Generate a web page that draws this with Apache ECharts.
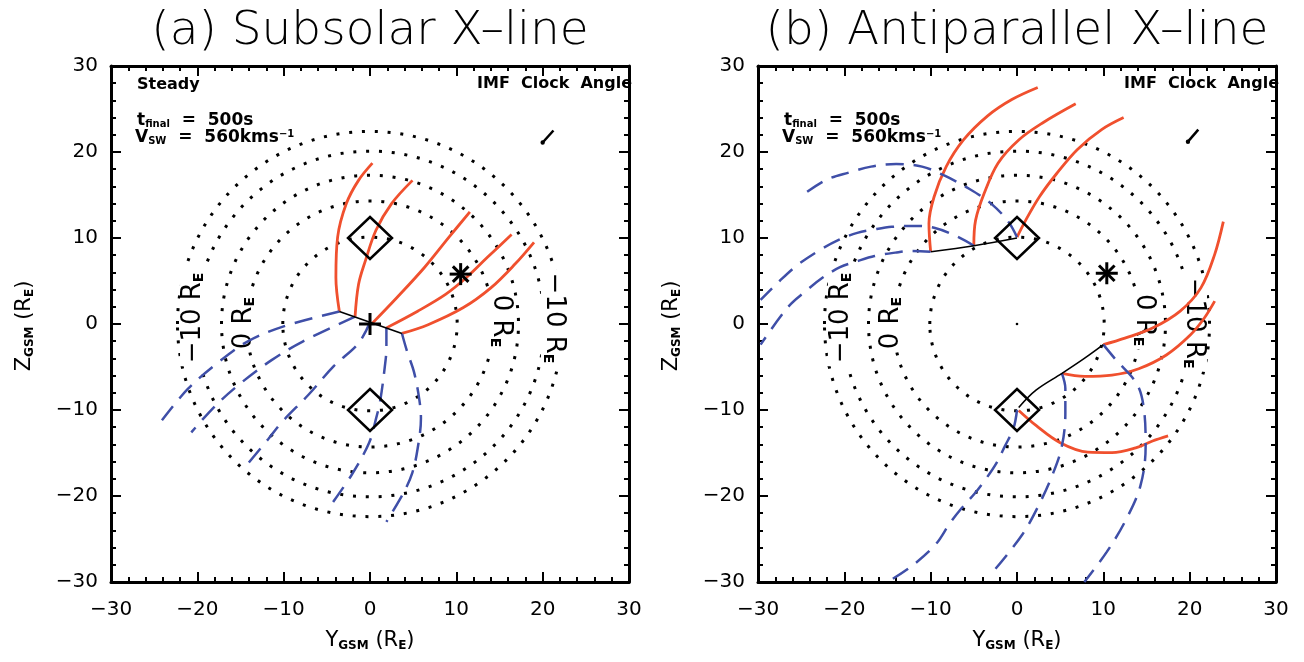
<!DOCTYPE html>
<html><head><meta charset="utf-8">
<script src="https://cdn.jsdelivr.net/npm/echarts@6/dist/echarts.min.js"></script>
<style>html,body{margin:0;padding:0;background:#fff}#c{width:1304px;height:662px}</style>
</head><body><div id="c"></div>
<script>
// ---------- data ----------
const axisMin = -30, axisMax = 30, axisStep = 10;
// dotted contour rings: [half-width in Y, half-height in Z]
const rings = [[10.1, 10.1], [14.3, 14.3], [17.2, 17.3], [20.2, 20.1], [22.3, 22.4]];
const ringLabelTexts = ['−10', '0', '0', '−10'];
const ringLabelPosA = [[-20.5, 0.7], [-14.6, 0.1], [15.1, 0.35], [21.3, 0.7]];
const ringLabelPosB = [[-20.4, 0.7], [-14.6, 0.1], [14.7, 0.45], [20.5, 0.1]];

// panel (a) Subsolar X-line
const xlineA = [[-3.55, 1.45], [3.7, -1.1]];
const redA1 = [[-3.55, 1.45], [-3.95, 5.4], [-3.75, 10.1], [-2.74, 14], [-1.33, 16.7], [0.28, 18.7]];
const redA2 = [[-1.73, 0.85], [-1.33, 4.6], [-0.52, 7.4], [0.69, 10.9], [2.5, 14], [4.92, 16.7]];
const redA3 = [[0.28, 0.1], [3.1, 3.05], [6.33, 6.6], [9.15, 10.1], [11.57, 13.03]];
const redA4 = [[1.9, -0.45], [5.52, 1.49], [8.75, 3.44], [11.17, 5.4], [13.6, 7.75], [16.4, 10.4]];
const redA5 = [[3.7, -1.1], [6.73, -0.08], [10.77, 1.88], [14, 4.2], [16.8, 6.97], [19.0, 9.5]];
const blueA1 = [[-3.55, 1.45], [-10, -0.27], [-14.2, -2.05], [-17.5, -4.4], [-21.1, -7.55], [-24.1, -11.2]];
const blueA2 = [[-1.73, 0.85], [-7.8, -2.04], [-11.4, -4.2], [-15, -6.9], [-17.9, -9.5], [-20.7, -12.6]];
const blueA3 = [[0, 0.2], [-1.3, -2.2], [-4.2, -4.9], [-7.1, -8.2], [-10.2, -11.4], [-11.8, -13.4], [-14.2, -16.3]];
const blueA4 = [[1.9, -0.45], [1.9, -2.8], [1.7, -5.1], [1.2, -8.8], [0.7, -11], [-0.1, -13.8], [-2.1, -17.5], [-4.5, -21]];
const blueA5 = [[3.7, -1.1], [4.3, -3.2], [5.1, -5.6], [5.7, -8.7], [5.9, -11], [5.5, -14.6], [4.9, -17.3], [3.9, -19.6], [1.9, -23]];
const diamondsA = [[0, 10], [0, -10]];
const starA = [[10.5, 5.8]];
const plusA = [[0, 0]];
const clockA = [[20.0, 21.1], [21.25, 22.5]];

// panel (b) Antiparallel X-line
const xlineB1 = [[-9.96, 8.4], [-4.98, 9.1], [0, 10]];
const xlineB2 = [[0.2, -9.7], [2.2, -7.7], [5.2, -5.75], [7.8, -4], [10, -2.4]];
const redB1 = [[-10, 8.4], [-10.2, 11.7], [-9.6, 14.8], [-8.2, 18.3], [-6.2, 21.4], [-3.4, 24.2], [-0.6, 26.1], [2.4, 27.5]];
const redB2 = [[-5, 9.1], [-4.8, 12.05], [-3.8, 15.2], [-2.2, 18.7], [0.2, 21.4], [3, 23.4], [6.8, 25.6]];
const redB3 = [[0, 10.1], [1, 12.05], [2.6, 14.8], [4.6, 17.5], [7, 20.3], [9.8, 22.6], [12.35, 24]];
const redB4 = [[10, -2.4], [12.5, -1.64], [15.7, -0.47], [18.9, 1.5], [21.3, 4.2], [22.9, 8.1], [23.9, 11.9]];
const redB5 = [[5.2, -5.75], [7.8, -6.1], [11, -5.95], [14.1, -5.2], [17.3, -3.6], [20.1, -1.25], [21.7, 0.7], [22.9, 2.66]];
const redB6 = [[0.2, -10.06], [2.2, -11.8], [5, -13.8], [8.2, -14.9], [11, -14.95], [13.75, -14.4], [15.7, -13.6], [17.5, -13]];
const blueB1 = [[0, 10.1], [-1, 11.9], [-3, 14], [-5.5, 15.7], [-8.5, 17.3], [-11, 18.3], [-14, 18.6], [-16.9, 18.3], [-19.5, 17.6], [-22, 16.8], [-24.4, 15.3]];
const blueB2 = [[-5, 9.1], [-7, 10.2], [-9.6, 11.2], [-12, 11.4], [-14.5, 11.3], [-16.5, 11], [-18.5, 10.6], [-20.6, 9.8], [-23, 8.5], [-25.5, 6.8], [-27.5, 5], [-29.7, 2.8]];
const blueB3 = [[-10, 8.4], [-12.2, 8.5], [-14.1, 8.3], [-16.5, 7.9], [-18.5, 7.3], [-20.5, 6.6], [-22.5, 5.4], [-24.5, 3.8], [-26.5, 2], [-29.7, -2.4]];
const blueB4 = [[0, -10], [-0.4, -12.1], [-1.4, -14.2], [-2.4, -16.2], [-3.6, -18], [-4.8, -19.6], [-6.4, -21.4], [-7.8, -23.2], [-9.4, -25.6], [-12, -28], [-14.5, -29.7]];
const blueB5 = [[5.2, -5.75], [5.6, -7.5], [5.6, -10.4], [5.2, -14.2], [4.2, -17.3], [2.6, -20.9], [0.6, -24.5], [-2.6, -28.6]];
const blueB6 = [[10, -2.4], [11.4, -4.1], [13.9, -7], [14.7, -9.9], [14.9, -14.2], [14.3, -18.8], [12.6, -22.8], [10.4, -26.5], [7.8, -30]];
const diamondsB = [[0, 10], [0, -10]];
const starB = [[10.4, 5.9]];
const dotB = [[0, 0]];
const clockB = [[19.8, 21.2], [21.0, 22.6]];

// ---------- styles ----------
const RED = '#f0502e', BLUE = '#3f4fa8', BLACK = '#000';
const FONT = 'DejaVu Sans';

function minusFmt(v) { return v < 0 ? '−' + (-v) : String(v); }

function xAx(grid, pos, labels) {
  return {
    type: 'value', gridIndex: grid, position: pos, min: axisMin, max: axisMax, interval: axisStep,
    axisLine: { show: true, onZero: false, lineStyle: { color: BLACK, width: 3 } },
    axisTick: { show: true, inside: true, length: 10, lineStyle: { color: BLACK, width: 2 } },
    minorTick: { show: true, splitNumber: 5, length: 5, lineStyle: { color: BLACK, width: 2 } },
    splitLine: { show: false },
    axisLabel: { show: labels, fontSize: 20, color: BLACK, margin: 18, fontFamily: FONT, formatter: minusFmt }
  };
}
function yAx(grid, pos, labels) {
  const a = xAx(grid, pos, labels);
  a.axisLabel.margin = 13;
  return a;
}

function lineS(gi, data, color, dashed, width) {
  return {
    type: 'line', xAxisIndex: gi * 2, yAxisIndex: gi * 2, data: data, showSymbol: false, smooth: 0.35,
    silent: true, animation: false, z: 3,
    lineStyle: { color: color, width: width, type: dashed ? [18, 10] : 'solid', cap: 'butt' }
  };
}

function ringSeries(gi) {
  return {
    type: 'custom', xAxisIndex: gi * 2, yAxisIndex: gi * 2, data: rings, silent: true, animation: false, z: 1,
    renderItem: function (params, api) {
      const c = api.coord([0, 0]);
      const s = api.size([api.value(0), api.value(1)]);
      return { type: 'ellipse', shape: { cx: c[0], cy: c[1], rx: s[0], ry: s[1] },
        style: { fill: 'none', stroke: BLACK, lineWidth: 3, lineDash: [3, 9.8] } };
    }
  };
}

function ringLabelSeries(gi, pos) {
  return {
    type: 'custom', xAxisIndex: gi * 2, yAxisIndex: gi * 2, data: pos, silent: true, animation: false, z: 2,
    renderItem: function (params, api) {
      const x = api.value(0), y = api.value(1);
      const p = api.coord([x, y]);
      return { type: 'text', x: p[0], y: p[1], rotation: x < 0 ? Math.PI / 2 : -Math.PI / 2,
        style: { text: '{n|' + ringLabelTexts[params.dataIndex] + ' R}{s|E}', align: 'center', verticalAlign: 'middle',
          backgroundColor: '#fff', padding: [0, 3],
          rich: { n: { fontSize: 26, fontFamily: FONT, fill: BLACK, verticalAlign: 'bottom' },
                  s: { fontSize: 14, fontFamily: FONT, fill: BLACK, fontWeight: 'bold', verticalAlign: 'bottom' } } } };
    }
  };
}

function markerSeries(gi, data, kind) {
  return {
    type: 'custom', xAxisIndex: gi * 2, yAxisIndex: gi * 2, data: data, silent: true, animation: false, z: 5,
    renderItem: function (params, api) {
      const p = api.coord([api.value(0), api.value(1)]);
      const st = { stroke: BLACK, lineWidth: 2.5, fill: 'none' };
      if (kind === 'diamond') {
        return { type: 'polygon', shape: { points: [[p[0], p[1] - 21], [p[0] + 22, p[1]], [p[0], p[1] + 21], [p[0] - 22, p[1]]] }, style: st };
      }
      if (kind === 'plus') {
        return { type: 'group', children: [
          { type: 'line', shape: { x1: p[0] - 11, y1: p[1], x2: p[0] + 11, y2: p[1] }, style: { stroke: BLACK, lineWidth: 3 } },
          { type: 'line', shape: { x1: p[0], y1: p[1] - 11, x2: p[0], y2: p[1] + 11 }, style: { stroke: BLACK, lineWidth: 3 } }] };
      }
      if (kind === 'star') {
        const r = 11, d = 7.8;
        return { type: 'group', children: [
          { type: 'line', shape: { x1: p[0] - r, y1: p[1], x2: p[0] + r, y2: p[1] }, style: { stroke: BLACK, lineWidth: 3 } },
          { type: 'line', shape: { x1: p[0], y1: p[1] - r, x2: p[0], y2: p[1] + r }, style: { stroke: BLACK, lineWidth: 3 } },
          { type: 'line', shape: { x1: p[0] - d, y1: p[1] - d, x2: p[0] + d, y2: p[1] + d }, style: { stroke: BLACK, lineWidth: 3 } },
          { type: 'line', shape: { x1: p[0] - d, y1: p[1] + d, x2: p[0] + d, y2: p[1] - d }, style: { stroke: BLACK, lineWidth: 3 } }] };
      }
      if (kind === 'dot2') {
        return { type: 'circle', shape: { cx: p[0], cy: p[1], r: 2.2 }, style: { fill: BLACK } };
      }
      return { type: 'circle', shape: { cx: p[0], cy: p[1], r: 1.3 }, style: { fill: BLACK } };
    }
  };
}

function clockSeries(gi, data) {
  return [
    { type: 'line', xAxisIndex: gi * 2, yAxisIndex: gi * 2, data: data, showSymbol: false, silent: true, animation: false,
      lineStyle: { color: BLACK, width: 2.5 }, z: 4 },
    markerSeries(gi, [data[0]], 'dot2')
  ];
}

const series = [
  ringSeries(0), ringLabelSeries(0, ringLabelPosA),
  lineS(0, redA1, RED, false, 2.8), lineS(0, redA2, RED, false, 2.8), lineS(0, redA3, RED, false, 2.8),
  lineS(0, redA4, RED, false, 2.8), lineS(0, redA5, RED, false, 2.8),
  lineS(0, blueA1, BLUE, true, 2.5), lineS(0, blueA2, BLUE, true, 2.5), lineS(0, blueA3, BLUE, true, 2.5),
  lineS(0, blueA4, BLUE, true, 2.5), lineS(0, blueA5, BLUE, true, 2.5),
  lineS(0, xlineA, BLACK, false, 1.6),
  markerSeries(0, diamondsA, 'diamond'), markerSeries(0, starA, 'star'), markerSeries(0, plusA, 'plus'),
  ringSeries(1), ringLabelSeries(1, ringLabelPosB),
  lineS(1, redB1, RED, false, 2.8), lineS(1, redB2, RED, false, 2.8), lineS(1, redB3, RED, false, 2.8),
  lineS(1, redB4, RED, false, 2.8), lineS(1, redB5, RED, false, 2.8), lineS(1, redB6, RED, false, 2.8),
  lineS(1, blueB1, BLUE, true, 2.5), lineS(1, blueB2, BLUE, true, 2.5), lineS(1, blueB3, BLUE, true, 2.5),
  lineS(1, blueB4, BLUE, true, 2.5), lineS(1, blueB5, BLUE, true, 2.5), lineS(1, blueB6, BLUE, true, 2.5),
  lineS(1, xlineB1, BLACK, false, 1.6), lineS(1, xlineB2, BLACK, false, 1.6),
  markerSeries(1, diamondsB, 'diamond'), markerSeries(1, starB, 'star'), markerSeries(1, dotB, 'dot')
].concat(clockSeries(0, clockA), clockSeries(1, clockB));

// ---------- text (layout) ----------
const annRich = {
  n: { fontSize: 17, fontWeight: 'bold', fontFamily: FONT, fill: BLACK, verticalAlign: 'bottom' },
  s: { fontSize: 10, fontWeight: 'bold', fontFamily: FONT, fill: BLACK, verticalAlign: 'bottom' },
  p: { fontSize: 10, fontWeight: 'bold', fontFamily: FONT, fill: BLACK, verticalAlign: 'top' }
};
const axRich = {
  n: { fontSize: 21, fontFamily: FONT, fill: BLACK, verticalAlign: 'bottom' },
  s: { fontSize: 12, fontWeight: 'bold', fontFamily: FONT, fill: BLACK, verticalAlign: 'bottom' }
};
function annot(left, right) {
  const g = [];
  if (left === 111) g.push({ type: 'text', x: 137, y: 85, style: { text: 'Steady', font: 'bold 16px "DejaVu Sans"', fill: BLACK, verticalAlign: 'middle' } });
  g.push({ type: 'text', x: right + 3, y: 84, style: { text: 'IMF  Clock  Angle', font: 'bold 16px "DejaVu Sans"', fill: BLACK, align: 'right', verticalAlign: 'middle' } });
  g.push({ type: 'text', x: left + 26, y: 121, style: { text: '{n|t}{s|final}{n|  =  500s}', rich: annRich, verticalAlign: 'middle' } });
  g.push({ type: 'text', x: left + 24, y: 138, style: { text: '{n|V}{s|SW}{n|  =  560kms}{p|−1}', rich: annRich, verticalAlign: 'middle' } });
  return g;
}
const graphics = [
  { type: 'text', x: 370, y: 32, style: { text: '(a) Subsolar X–line', font: '200 47px "DejaVu Sans"', fill: BLACK, align: 'center', verticalAlign: 'middle' } },
  { type: 'text', x: 1017, y: 32, style: { text: '(b) Antiparallel X–line', font: '200 47px "DejaVu Sans"', fill: BLACK, align: 'center', verticalAlign: 'middle' } },
  { type: 'text', x: 370, y: 641, style: { text: '{n|Y}{s|GSM}{n| (R}{s|E}{n|)}', rich: axRich, align: 'center', verticalAlign: 'middle' } },
  { type: 'text', x: 1017, y: 641, style: { text: '{n|Y}{s|GSM}{n| (R}{s|E}{n|)}', rich: axRich, align: 'center', verticalAlign: 'middle' } },
  { type: 'text', x: 25, y: 326, rotation: Math.PI / 2, style: { text: '{n|Z}{s|GSM}{n| (R}{s|E}{n|)}', rich: axRich, align: 'center', verticalAlign: 'middle' } },
  { type: 'text', x: 672, y: 326, rotation: Math.PI / 2, style: { text: '{n|Z}{s|GSM}{n| (R}{s|E}{n|)}', rich: axRich, align: 'center', verticalAlign: 'middle' } }
].concat(annot(111, 629), annot(758, 1276));

const chart = echarts.init(document.getElementById('c'), null, { renderer: 'canvas' });
chart.setOption({
  animation: false,
  backgroundColor: '#fff',
  grid: [
    { left: 111, top: 66, width: 518, height: 516 },
    { left: 758, top: 66, width: 518, height: 516 }
  ],
  xAxis: [xAx(0, 'bottom', true), xAx(0, 'top', false), xAx(1, 'bottom', true), xAx(1, 'top', false)],
  yAxis: [yAx(0, 'left', true), yAx(0, 'right', false), yAx(1, 'left', true), yAx(1, 'right', false)],
  series: series,
  graphic: graphics
});
</script></body></html>
